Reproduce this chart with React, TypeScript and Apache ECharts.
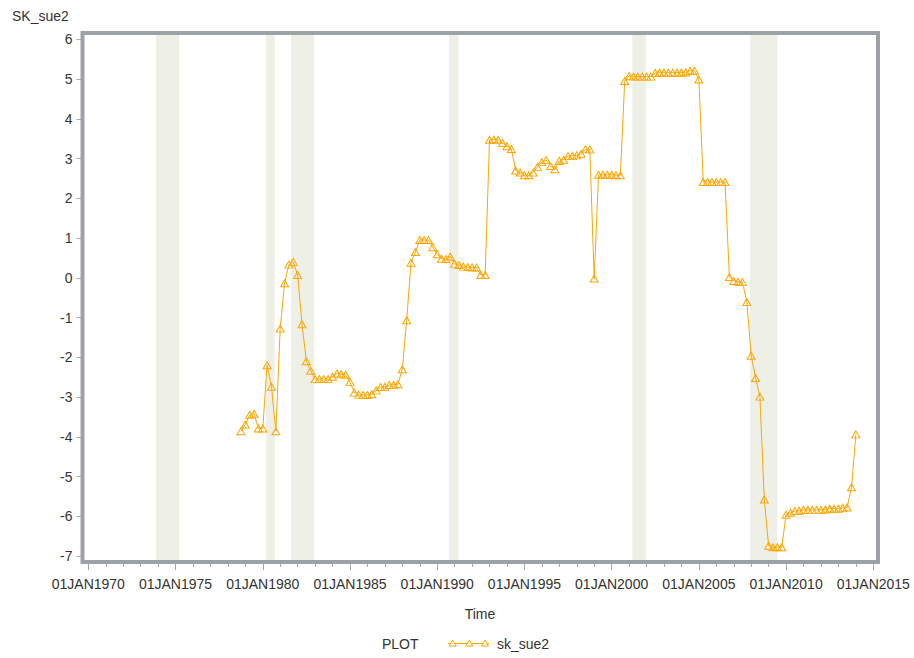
import React, { useEffect, useRef } from "react";
import * as echarts from "echarts";

// Quarterly observations, first one at 1978 Q4 (decimal year)
const START_YEAR = 1978.75;
const STEP_YEARS = 0.25;

const SK_SUE2 = [
  -3.86, -3.69, -3.45, -3.42, -3.79, -3.79, -2.2, -2.74, -3.86, -1.28,
  -0.14, 0.33, 0.4, 0.07, -1.17, -2.1, -2.34, -2.55, -2.55, -2.55,
  -2.55, -2.49, -2.41, -2.43, -2.44, -2.62, -2.89, -2.94, -2.95, -2.95,
  -2.93, -2.84, -2.75, -2.74, -2.7, -2.69, -2.68, -2.3, -1.07, 0.38,
  0.65, 0.95, 0.95, 0.95, 0.77, 0.59, 0.48, 0.47, 0.53, 0.35,
  0.32, 0.28, 0.27, 0.26, 0.26, 0.07, 0.07, 3.47, 3.48, 3.47,
  3.39, 3.31, 3.24, 2.7, 2.65, 2.58, 2.58, 2.65, 2.79, 2.91,
  2.96, 2.81, 2.73, 2.94, 2.97, 3.06, 3.07, 3.08, 3.12, 3.23,
  3.23, -0.02, 2.59, 2.59, 2.59, 2.59, 2.58, 2.58, 4.95, 5.08,
  5.06, 5.06, 5.06, 5.06, 5.06, 5.15, 5.16, 5.16, 5.16, 5.16,
  5.16, 5.16, 5.17, 5.21, 5.21, 4.99, 2.41, 2.41, 2.41, 2.41,
  2.41, 2.41, 0.02, -0.08, -0.1, -0.11, -0.61, -1.96, -2.52, -2.99,
  -5.58, -6.74, -6.78, -6.78, -6.78, -5.96, -5.91, -5.87, -5.86, -5.84,
  -5.84, -5.84, -5.84, -5.84, -5.83, -5.81, -5.81, -5.81, -5.79, -5.78,
  -5.27, -3.94,
];

const TIMES = SK_SUE2.map((_, i) => START_YEAR + i * STEP_YEARS);

// Recession shading (decimal years)
const RECESSIONS: [number, number][] = [
  [1973.89, 1975.21],
  [1980.19, 1980.68],
  [1981.63, 1982.95],
  [1990.68, 1991.22],
  [2001.19, 2001.96],
  [2007.93, 2009.5],
];

const MAJOR_X_TICKS = [1970, 1975, 1980, 1985, 1990, 1995, 2000, 2005, 2010, 2015];
const MINOR_X_TICKS = Array.from({ length: 46 }, (_, i) => 1970 + i);
const Y_TICKS = [-7, -6, -5, -4, -3, -2, -1, 0, 1, 2, 3, 4, 5, 6];

const X_MIN = 1969.667;
const X_MAX = 2015.269;
const Y_MIN = -7.151;
const Y_MAX = 6.158;

const FONT = "'Liberation Sans', Arial, sans-serif";
const ORANGE = "#ffa500";
const FRAME = "#9ea2a7";
const TICK = "#a6aaae";
const TEXT = "#333333";
const BAND = "#eeefe6";

export default function App() {
  const ref = useRef<HTMLDivElement>(null);

  useEffect(() => {
    if (!ref.current) return;
    const chart = echarts.init(ref.current, undefined, { renderer: "svg" });

    const legendTri = (cx: number, cy: number) => ({
      type: "polygon",
      shape: {
        points: [
          [cx - 3.5, cy + 3],
          [cx + 3.5, cy + 3],
          [cx, cy - 3],
        ],
      },
      style: { fill: "#ffffff", stroke: ORANGE, lineWidth: 1 },
      silent: true,
    });

    chart.setOption({
      animation: false,
      grid: {
        left: 82.5,
        right: 36,
        top: 33,
        bottom: 96,
        show: true,
        borderColor: FRAME,
        borderWidth: 4,
        backgroundColor: "transparent",
        z: 10,
      },
      xAxis: [
        {
          type: "value",
          min: X_MIN,
          max: X_MAX,
          position: "bottom",
          axisLine: { show: false, onZero: false },
          splitLine: { show: false },
          axisTick: {
            show: true,
            customValues: MAJOR_X_TICKS,
            length: 8,
            lineStyle: { color: TICK, width: 1 },
          },
          axisLabel: {
            customValues: MAJOR_X_TICKS,
            formatter: (v: number) => "01JAN" + Math.round(v),
            fontSize: 14,
            fontFamily: FONT,
            color: TEXT,
            margin: 15,
          },
        },
        {
          type: "value",
          min: X_MIN,
          max: X_MAX,
          position: "bottom",
          axisLine: { show: false, onZero: false },
          splitLine: { show: false },
          axisTick: {
            show: true,
            customValues: MINOR_X_TICKS,
            length: 5,
            lineStyle: { color: TICK, width: 1 },
          },
          axisLabel: { show: false },
        },
      ],
      yAxis: {
        type: "value",
        min: Y_MIN,
        max: Y_MAX,
        axisLine: { show: false, onZero: false },
        splitLine: { show: false },
        axisTick: {
          show: true,
          customValues: Y_TICKS,
          length: 6,
          lineStyle: { color: TICK, width: 1 },
        },
        axisLabel: {
          customValues: Y_TICKS,
          fontSize: 14,
          fontFamily: FONT,
          color: TEXT,
          margin: 10,
        },
      },
      series: [
        {
          name: "recessions",
          type: "line",
          data: [],
          z: 1,
          silent: true,
          markArea: {
            silent: true,
            itemStyle: { color: BAND, borderWidth: 0 },
            label: { show: false },
            data: RECESSIONS.map(([a, b]) => [{ xAxis: a }, { xAxis: b }]),
          },
        },
        {
          name: "sk_sue2",
          type: "line",
          z: 3,
          data: TIMES.map((t, i) => [t, SK_SUE2[i]]),
          symbol: "triangle",
          symbolSize: [8, 7],
          showAllSymbol: true,
          lineStyle: { color: ORANGE, width: 1 },
          itemStyle: { color: "rgba(255,255,255,0)", borderColor: ORANGE, borderWidth: 1 },
          emphasis: { disabled: true },
          silent: true,
        },
      ],
      graphic: [
        {
          type: "text",
          x: 12,
          y: 16,
          style: { text: "SK_sue2", fontSize: 14, fontFamily: FONT, fill: TEXT, align: "left", verticalAlign: "middle" },
        },
        {
          type: "text",
          x: 480,
          y: 614,
          style: { text: "Time", fontSize: 14, fontFamily: FONT, fill: TEXT, align: "center", verticalAlign: "middle" },
        },
        {
          type: "text",
          x: 382,
          y: 644,
          style: { text: "PLOT", fontSize: 14, fontFamily: FONT, fill: TEXT, align: "left", verticalAlign: "middle" },
        },
        {
          type: "line",
          shape: { x1: 448, y1: 643.5, x2: 489, y2: 643.5 },
          style: { stroke: ORANGE, lineWidth: 1 },
          silent: true,
        },
        legendTri(452.7, 643),
        legendTri(469.3, 643),
        legendTri(485, 643),
        {
          type: "text",
          x: 497,
          y: 644,
          style: { text: "sk_sue2", fontSize: 14, fontFamily: FONT, fill: TEXT, align: "left", verticalAlign: "middle" },
        },
      ],
    });

    return () => chart.dispose();
  }, []);

  return (
    <div
      ref={ref}
      style={{ position: "absolute", left: 0, top: 0, width: 914, height: 658, background: "#ffffff" }}
    />
  );
}
